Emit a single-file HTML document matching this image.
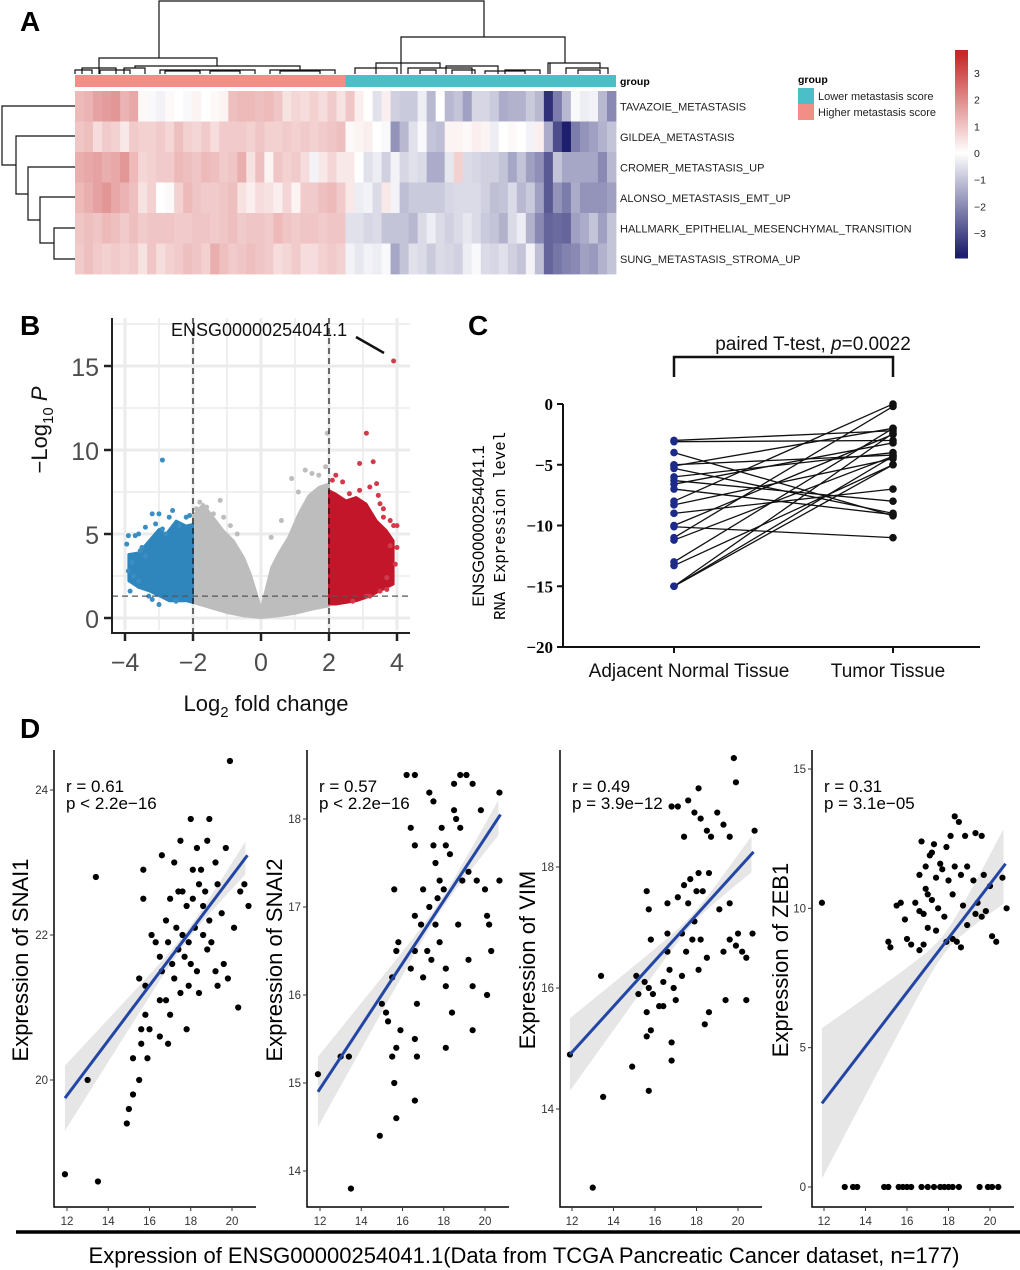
<!DOCTYPE html>
<html><head><meta charset="utf-8"><style>
html,body{margin:0;padding:0;background:#fff;}
svg{display:block;font-family:"Liberation Sans",sans-serif;}
</style></head><body>
<svg id="fig" width="1020" height="1270" viewBox="0 0 1020 1270" xmlns="http://www.w3.org/2000/svg">
<g font-weight="bold" font-size="28">
<text x="20" y="31">A</text>
<text x="20" y="335">B</text>
<text x="468" y="335">C</text>
<text x="20" y="738">D</text>
</g>
<g id="pa"></g>
<g id="pb"></g>
<g id="pc"></g>
<g id="pd"></g>
</svg>
<script>
// ===== Panel A data =====
const heatRows = ["TAVAZOIE_METASTASIS","GILDEA_METASTASIS","CROMER_METASTASIS_UP","ALONSO_METASTASIS_EMT_UP","HALLMARK_EPITHELIAL_MESENCHYMAL_TRANSITION","SUNG_METASTASIS_STROMA_UP"];
const heatGroups = ["Higher metastasis score","Lower metastasis score"];
const heatR1 = [1.2,1.3,1.6,1.7,1.8,1.3,1.5,0.1,-0.1,-0.2,0.1,0,-0.1,0.2,0,0.1,0.2,1.1,1.2,1.2,1.1,1.2,1.0,0.5,0.7,0.6,0.8,0.6,0.9,0.5, 1.0,0.3,0,-0.5,0.3,-0.8,-0.9,-0.9,-0.3,-1.2,0,-1.2,-1.0,-1.6,-0.7,-0.7,-0.9,-1.4,-1.3,-1.3,-0.9,-1.2,-3.5,-2.2,-1.2,-0.1,-0.3,-0.2,-1.2,-2.0];
const heatR2 = [1.0,1.1,0.6,0.9,0.8,0.4,0.9,0.8,0.8,0.9,0.7,1.1,0.8,0.7,0.9,0.6,0.9,0.9,0.9,0.8,1.0,0.8,0.8,0.9,0.8,0.9,0.8,0.9,1.0,1.1, 0.1,0.2,0.3,0,-0.1,-1.8,-1.2,-0.5,-0.1,-1.0,-1.1,0.2,0.2,0.1,0.3,0.2,-0.3,0,0.1,0,-0.2,0.3,-1.4,-3.0,-3.8,-2.2,-1.8,-1.6,-1.3,-1.0];
const heatR3 = [1.4,1.5,1.6,1.4,1.5,1.8,1.2,0.7,0.8,0.9,0.9,1.2,1.1,1.0,1.2,1.1,0.9,1.0,1.4,0.5,1.1,0.2,1.0,0.8,0.9,0.6,-0.2,0.4,0.7,0.4, 0.4,0,-0.5,-0.3,-0.8,-0.2,-0.7,-0.5,-0.6,-1.4,-1.4,-0.4,0.8,-0.6,-0.7,-0.8,-0.8,-1.0,-1.5,-1.0,-1.6,-1.9,-2.8,-1.0,-1.5,-1.5,-1.5,-1.5,-2.0,-1.2];
const heatR4 = [1.2,1.4,1.6,1.8,1.5,1.3,1.1,0.5,0.8,0.0,0.1,0.8,1.2,1.0,0.9,0.9,1.0,1.1,0.5,0.3,0.6,0.5,0.3,0.7,0.2,0.9,0.9,1.1,1.2,0.9, 0.4,-0.3,-0.2,-0.6,0.4,-0.2,-1.1,-0.9,-0.9,-0.9,-0.9,-0.7,-0.6,-0.6,-0.6,-0.8,-1.1,-1.0,-0.6,-1.2,-0.9,-1.6,-2.8,-1.8,-2.2,-1.4,-1.8,-1.8,-1.8,-1.6];
const heatR5 = [1.0,1.1,1.0,1.2,1.1,0.9,1.1,0.9,1.0,1.0,1.0,0.9,0.9,1.0,1.0,0.9,1.0,1.1,0.9,1.0,1.0,0.9,1.2,1.0,0.9,1.0,1.0,0.9,1.0,1.0, -0.5,-0.5,-0.7,-0.6,-1.0,-1.0,-1.0,-1.2,-0.6,-0.3,-0.6,-0.8,-0.6,-0.4,-0.6,-0.9,-1.0,-1.3,-0.6,-0.3,-1.3,-2.0,-2.6,-2.5,-2.6,-1.6,-1.4,-1.0,-1.6,-1.0];
const heatR6 = [0.9,1.1,0.9,0.8,0.9,0.8,0.9,0.5,1.0,0.6,0.8,0.9,1.1,1.0,0.8,1.4,1.1,0.9,1.0,1.1,1.0,0.9,0.6,0.7,0.9,0.6,0.6,0.8,0.9,0.8, -0.2,-0.4,-0.2,-0.3,-0.1,-1.5,-1.0,-0.5,-0.6,-0.9,-0.6,-0.7,-0.8,-0.3,-0.1,-0.6,-0.7,-0.5,-0.8,-1.0,-0.2,-1.1,-2.6,-2.3,-2.1,-2.0,-1.6,-1.7,-1.3,-1.0];
const colorbarTicks = [3,2,1,0,-1,-2,-3];

// ===== Panel B data =====
const volTicksX = [-4,-2,0,2,4];
const volTicksY = [0,5,10,15];
const grayTopFC = [-2,-1.7,-1.4,-1.1,-0.8,-0.5,-0.3,-0.15,0,0.15,0.3,0.5,0.8,1.1,1.4,1.7,2];
const grayTopP  = [6.1,6.8,6.0,5.2,4.6,3.6,2.6,1.6,0.6,1.8,3.0,3.8,4.8,6.2,7.3,7.8,8.0];
const grayBotFC = [2,1.5,1,0.5,0,-0.5,-1,-1.5,-2];
const grayBotP  = [0.7,0.5,0.25,0.1,0,0.1,0.3,0.6,0.9];
const blueTopFC = [-2,-2.2,-2.5,-2.8,-3.0,-3.3,-3.6,-3.9];
const blueTopP  = [5.6,5.5,5.8,5.0,5.3,4.6,3.9,3.8];
const blueBotFC = [-3.9,-3.6,-3.3,-3.0,-2.7,-2.4,-2.2,-2];
const blueBotP  = [2.2,1.8,1.6,1.3,1.0,1.0,1.0,0.9];
const redTopFC = [2,2.2,2.5,2.8,3.1,3.4,3.7,3.9];
const redTopP  = [7.6,7.4,7.0,7.2,6.8,5.8,5.2,4.6];
const redBotFC = [3.9,3.7,3.4,3.1,2.8,2.5,2.2,2];
const redBotP  = [2.0,1.8,1.5,1.2,1.0,0.9,0.8,0.8];
const blueDotsFC = [-2.9,-3.9,-3.5,-3.2,-3.0,-2.6,-2.4,-3.8,-3.6,-3.4,-2.2,-2.8,-3.9,-3.3,-2.5,-3.95,-3.7,-3.55,-3.85,-3.2,-3.0,-2.7,-2.1,-3.6,-3.4,-3.1,-2.9,-3.75];
const blueDotsP  = [9.4,4.9,4.2,6.2,6.2,6.4,5.5,3.3,2.2,3.7,6.0,5.0,2.8,1.3,1.0,4.4,4.9,4.0,1.6,1.1,0.8,6.0,6.1,5.0,5.4,5.6,5.3,2.5];
const redDotsFC = [3.9,3.1,2.9,3.3,3.4,3.6,3.9,3.8,2.2,2.6,3.5,3.7,4.0,3.2,2.7,3.95,3.8,3.6,3.45,3.2,2.4,2.1,3.7,4.0,3.1,2.9,3.5];
const redDotsP  = [15.3,11.0,9.2,9.3,8.0,6.5,5.5,4.3,8.5,7.4,6.8,2.4,4.2,1.3,1.0,3.2,5.8,6.0,7.3,7.8,8.1,8.2,1.7,5.5,1.3,7.6,1.6];
const grayDotsFC = [1.3,1.5,0.9,1.95,-1.2,-1.6,-1.9,1.1,-0.9,-1.4,-1.1,-0.7,0.6,0.3,1.7,1.9,-1.8];
const grayDotsP  = [8.8,8.6,8.3,11.0,7.0,6.6,6.5,7.5,5.5,6.2,6.0,5.0,5.8,4.8,8.5,9.0,6.9];

// ===== Panel C data =====
const pairCats = ["Adjacent Normal Tissue","Tumor Tissue"];
const normalVals = [-3,-3.1,-4,-5,-5.1,-5.3,-6,-6.3,-6.6,-7,-8,-8.3,-9,-10,-10.1,-11,-11.2,-13,-13.3,-15,-15,-15];
const tumorVals  = [-2.2,-3,-9.2,-4.2,-2,-9,-4,-8,-3.2,-9.1,0,-4.5,-7,-2.5,-11,-0.2,-4.3,-2,-5,-2.4,-4.3,-5];
const pairTicks = [0,-5,-10,-15,-20];

// ===== Panel D data =====
const d1X = [11.9,13.5,13.4,13,14.9,15,15.2,15.5,15.2,15.6,15.9,15.6,15.8,16,15.7,15.7,15.5,16.5,16.5,16.9,16.8,17,17.8,16.1,16.5,16.8,16.6,17.2,17.4,17.5,18,18.3,18.9,18.8,19.7,19.9,19.2,18.5,17.8,18.1,18.4,18.6,17.6,17.9,18.2,17.4,17.7,18,18.3,17.2,17.5,17.9,18.4,18.8,19.2,19.3,19.6,19.8,20.1,20.3,20.4,20.6,20.8,19.5,19,18.6,17,16.9,17.3,18.7,19.3,16.3,18.1,17.6,18.9,17.1,16.6,15.8];
const d1Y = [18.7,18.6,22.8,20,19.4,19.6,19.8,20,20.3,20.5,20.3,20.7,20.9,20.7,22.5,22.9,21.4,21.1,20.6,20.5,21.1,20.9,20.7,22,21.7,22.2,23.1,23,22.6,23.3,23.6,23.2,23.6,23.3,23.2,24.4,23,22.9,22.4,22.5,22.7,22.4,22,21.9,22.1,21.8,21.7,21.6,21.5,21.4,21.2,21.3,21.2,21.8,21.5,21.3,21.6,21.4,22.1,21,22.6,22.7,22.4,22.3,21.9,22,22.5,21.9,22.1,22.6,22.7,21.9,22.9,22.6,22.2,21.6,21.5,21.3];
const d2X = [11.9,13,13.4,13.5,14.9,15,15.2,15.3,15.5,15.6,15.7,15.7,15.9,15.5,15.7,15.8,15.6,16.6,16.6,16.7,16.7,16.4,16.6,16.2,16.6,16.4,16.6,17.3,17.5,17.6,17.8,18.1,18,18.3,18.5,18.6,18.8,18.5,18.8,19.1,19.4,19.8,20.7,17,17.3,17.6,17.8,17.2,16.9,17,17.4,18.1,18.1,18.4,18.1,18.7,19.2,19.4,19.4,20.1,20.3,20.2,19.6,20,20.1,20.7,19.2,18.9,17.9,17.5,16.6,17.7];
const d2Y = [15.1,15.3,15.3,13.8,14.4,15.9,15.8,15.7,15.3,15,14.6,15.4,15.6,16.2,16.5,16.6,17.2,14.8,15.5,15.3,15.9,16.3,16.5,18.5,18.5,17.9,17.7,18.3,18.2,17.5,17.3,17.7,17.2,17.6,18.1,18,17.9,18.4,18.5,18.5,18.4,18.1,18.3,17.2,17,16.8,16.6,16.5,16.8,16.2,16.4,16.3,16.1,15.8,15.4,16.8,16.4,16.1,15.6,16,16.5,16.8,17.3,17.2,16.9,17.3,17.4,17.3,17.9,17.7,16.9,17.1];
const d3X = [11.9,13,13.5,13.4,14.9,15.1,15.2,15.5,15.6,15.7,15.8,15.6,15.7,15.9,16.4,16.2,15.7,15.6,15.8,16.6,16.8,16.8,16.6,16.6,16.4,16.7,16.9,17.0,17.3,17.5,17.8,17.6,17.1,17.4,17.7,18,18.1,18.3,18.6,18.2,18.5,18.1,18.4,18.6,18.5,18.7,19,19.3,19.6,17.4,17.9,18.2,16.8,17.1,17.6,18.1,19.8,19.9,20.8,19.6,19.9,20.0,20.2,20.4,20.4,19.6,19.3,19.4,20.7,17.3,17.9,19.1];
const d3Y = [14.9,12.7,14.2,16.2,14.7,16.2,15.9,16.1,15.2,14.3,15.3,15.6,16,15.9,15.7,15.7,17.3,17.6,16.8,17.4,14.8,15.1,16.6,16.9,16.1,16.3,16,15.8,16.2,16.6,16.8,17.4,17.5,17.7,17.8,17.6,17.9,17.6,17.9,16.8,16.5,16.3,15.4,15.6,18.6,18.5,18.9,18.7,18.5,18.5,18.9,18.8,19,19,19.1,19.3,19.8,19.4,18.6,17.4,16.7,16.9,16.6,16.5,15.8,16.8,16.6,15.8,16.9,16.9,17.1,17.3];
const d4X = [13,13.4,13.6,14.9,15.1,15.6,15.8,16,16.2,16.7,17,17.3,17.6,17.8,18,18.2,18.5,19.5,19.9,20.1,20.4, 11.9,15.1,15.2,15.5,15.7,15.9,16,16.2,16.6,16.8,16.4,16.6,16.8,17.0,17.0,16.6,16.9,16.7,17.3,17.1,17.4,17.7,17.9,18.1,18.3,18.5,18.8,19.3,19.6,18,18.3,18.6,18.9,19.2,17.2,17.5,17.8,17.4,17.9,18.2,18.4,18.6,18.9,19.3,19.6,19.8,20.1,20.3,20.8,19.7,20.0,20.6,19.4,18.2,17.6,17.2,16.9,18.7];
const d4Y = [0,0,0,0,0,0,0,0,0,0,0,0,0,0,0,0,0,0,0,0,0, 10.2,8.8,8.6,10.1,10.2,9.6,8.9,8.7,8.5,8.7,10.2,9.9,9.8,10.5,9.3,11.2,11.5,12.4,12.3,11.9,11.1,11.4,12.2,12.6,13.3,13.1,12.6,12.7,12.6,11,11.5,11.2,11.5,11,10.3,10.0,9.7,9.2,8.8,8.9,8.8,8.6,9.4,9.8,9.7,9.9,9.0,8.8,10,11.2,10.8,11.1,10.2,10.5,11.6,12.0,10.7,10.1];
const dGenes = ["SNAI1","SNAI2","VIM","ZEB1"];
const dR = ["r = 0.61","r = 0.57","r = 0.49","r = 0.31"];
const dP = ["p < 2.2e\u221216","p < 2.2e\u221216","p = 3.9e\u221212","p = 3.1e\u221205"];
const dFitStart = [19.75,14.9,14.9,3.0];
const dFitEnd = [23.1,18.05,18.25,11.6];
const dBandEnd = [0.45,0.4,0.6,2.7];
const dBandMid = [0.07,0.06,0.08,0.35];
const d1Ticks = [20,22,24];
const d2Ticks = [14,15,16,17,18];
const d3Ticks = [14,16,18];
const d4Ticks = [0,5,10,15];
const dXTicks = [12,14,16,18,20];

const NS="http://www.w3.org/2000/svg";
function mk(parent, tag, attrs, text){
  const e=document.createElementNS(NS,tag);
  for(const k in attrs) e.setAttribute(k,attrs[k]);
  if(text!==undefined) e.textContent=text;
  parent.appendChild(e); return e;
}

// ===== Panel A =====
(function(){
  const g=document.getElementById('pa');
  const x0=75,x1=616,y0=91,rowH=30.5;
  const rows=[heatR1,heatR2,heatR3,heatR4,heatR5,heatR6];
  const n=heatR1.length, cw=(x1-x0)/n;
  function col(v){
    if(v>=0){const t=Math.min(v/3.7,1);return `rgb(${Math.round(255-57*t)},${Math.round(255-215*t)},${Math.round(255-215*t)})`;}
    const t=Math.min(-v/3.8,1);return `rgb(${Math.round(255-225*t)},${Math.round(255-225*t)},${Math.round(255-145*t)})`;
  }
  rows.forEach((r,ri)=>{
    r.forEach((v,ci)=>{
      const c=mk(g,'rect',{x:x0+ci*cw,y:y0+ri*rowH,width:cw+0.4,height:rowH+0.4,fill:col(v)});
      
      
    });
    const t=mk(g,'text',{x:620,y:y0+ri*rowH+rowH/2+4,'font-size':11,fill:'#222'},heatRows[ri]);
    
    
  });
  const half=n/2;
  const a1=mk(g,'rect',{x:x0,y:75,width:half*cw,height:12,fill:'#f28e86'});
  
  
  const a2=mk(g,'rect',{x:x0+half*cw,y:75,width:half*cw,height:12,fill:'#4bbfc8'});
  
  
  const gl=mk(g,'text',{x:620,y:85,'font-size':10.5,'font-weight':'bold'},'group');
  
  
  const lt=mk(g,'text',{x:798,y:83,'font-size':10.5,'font-weight':'bold'},'group');
  
  
  [['#4bbfc8',heatGroups[1]],['#f28e86',heatGroups[0]]].forEach((d,i)=>{
    const b=mk(g,'rect',{x:798,y:88+i*16,width:16,height:16,fill:d[0]});
    
    
    const t=mk(g,'text',{x:818,y:100+i*16,'font-size':11,fill:'#222'},d[1]);
    
    
  });
  const cb0=50,cb1=257,zeroY=153,ppu=26.7;
  for(let y=cb0;y<cb1;y+=2){
    const v=(zeroY-y-1)/ppu;
    const s=mk(g,'rect',{x:955,y:y,width:13,height:2.5,fill:col(v)});
    
    
  }
  colorbarTicks.forEach(v=>{
    const t=mk(g,'text',{x:974,y:zeroY-v*ppu+4,'font-size':10.5,fill:'#222'},v<0?'\u2212'+(-v):String(v));
    
    
  });
  const dg=mk(g,'path',{fill:'none',stroke:'#111','stroke-width':1.2,d:
   'M159,58 V1 H484 V37 M99,74 V58 H217 V66 M401,74 V37 H565 V63 '+
   'M82,74 V68 H116 V74 M124,74 V68 H145 V74 M135,68 V66 H300 V70 M160,74 V70 H255 V74 M270,74 V70 H335 V74 '+
   'M376,74 V63 H440 V68 M355,74 V68 H397 V74 M408,74 V68 H472 V74 M446,74 V66 H498 V74 M420,74 V70 H436 V74 M452,74 V70 H475 V74 '+
   'M548,74 V63 H600 V68 M550,63 V74 M566,74 V68 H608 V74 M578,74 V70 H600 V74 '+
   'M75,74 V70 H92 V74 M100,74 V70 H130 V74 M165,74 V71 H200 V74 M210,74 V71 H240 V74 M280,74 V71 H320 V74 M505,74 V70 H540 V74 M485,74 V71 H525 V74'});
  
  
  const dl=mk(g,'path',{fill:'none',stroke:'#111','stroke-width':1.2,d:
   'M75,106 H2 V165 H16 M75,136 H16 V194 H28 M75,167 H28 V220 H40 M75,197 H40 V243 H54 M75,228 H54 V259 H75'});
  
  
})();

// ===== Panel B =====
(function(){
  const g=document.getElementById('pb');
  const X=v=>261+v*34, Y=v=>618-v*16.8;
  const L=112,R=410,T=318,B=633;
  for(let v=-4;v<=4;v+=1){const l=mk(g,'line',{x1:X(v),x2:X(v),y1:T,y2:B-3,stroke:'#ebebeb','stroke-width':v%2===0?3:1.6});
    
    }
  for(let v=0;v<=17.5;v+=2.5){const l=mk(g,'line',{x1:L,x2:R,y1:Y(v),y2:Y(v),stroke:'#ebebeb','stroke-width':v%5===0?3:1.6});
    
    }
  function poly(fx,fy,bx,by,fill,name){
    const pts=[];fx.forEach((v,i)=>pts.push(X(v)+','+Y(fy[i])));bx.forEach((v,i)=>pts.push(X(v)+','+Y(by[i])));
    const p=mk(g,'polygon',{points:pts.join(' '),fill:fill,stroke:fill,'stroke-width':2,'stroke-linejoin':'round'});
    
    
  }
  poly(grayTopFC,grayTopP,grayBotFC,grayBotP,'#bdbdbd','gray-cloud');
  poly(blueTopFC,blueTopP,blueBotFC,blueBotP,'#2f86bd','blue-cloud');
  poly(redTopFC,redTopP,redBotFC,redBotP,'#c4162a','red-cloud');
  function dots(xs,ys,c,name){xs.forEach((v,i)=>{const d=mk(g,'circle',{cx:X(v),cy:Y(ys[i]),r:2.5,fill:c});
    
    });}
  dots(grayDotsFC,grayDotsP,'#bdbdbd','gray-point');
  dots(blueDotsFC,blueDotsP,'#3b8ec2','blue-point');
  dots(redDotsFC,redDotsP,'#d23a4c','red-point');
  [-2,2].forEach(v=>{const l=mk(g,'line',{x1:X(v),x2:X(v),y1:T,y2:B,stroke:'#111','stroke-width':1.2,'stroke-dasharray':'6,4'});
    
    });
  const h=mk(g,'line',{x1:L,x2:R,y1:Y(1.3),y2:Y(1.3),stroke:'#555','stroke-width':1.2,'stroke-dasharray':'6,4'});
  
  
  const ax=mk(g,'path',{d:`M${L},${T} V${B} H${R}`,fill:'none',stroke:'#222','stroke-width':2});
  
  
  volTicksX.forEach(v=>{
    const tk=mk(g,'line',{x1:X(v),x2:X(v),y1:B,y2:B+8,stroke:'#222','stroke-width':2.5});
    
    
    const t=mk(g,'text',{x:X(v),y:B+38,'font-size':25,fill:'#4d4d4d','text-anchor':'middle'},v<0?'\u2212'+(-v):String(v));
    
    
  });
  volTicksY.forEach(v=>{
    const tk=mk(g,'line',{x1:L-8,x2:L,y1:Y(v),y2:Y(v),stroke:'#222','stroke-width':2.5});
    
    
    const t=mk(g,'text',{x:L-13,y:Y(v)+10,'font-size':25,fill:'#4d4d4d','text-anchor':'end'},String(v));
    
    
  });
  const lab=mk(g,'text',{x:171,y:336,'font-size':18,fill:'#111'},'ENSG00000254041.1');
  
  
  const ar=mk(g,'line',{x1:356,y1:337,x2:384,y2:353,stroke:'#111','stroke-width':2.5});
  
  
  const xt=mk(g,'text',{x:266,y:711,'font-size':22,'text-anchor':'middle',fill:'#111'});
  xt.innerHTML='Log<tspan font-size="15" dy="6">2</tspan><tspan dy="-6"> fold change</tspan>';
  
  
  const yt=mk(g,'text',{transform:'translate(47,430) rotate(-90)','font-size':22,'text-anchor':'middle',fill:'#111'});
  yt.innerHTML='\u2212Log<tspan font-size="15" dy="6">10</tspan><tspan dy="-6" font-style="italic"> P</tspan>';
  
  
})();

// ===== Panel C =====
(function(){
  const g=document.getElementById('pc');
  const Y=v=>404-v*(243/20);
  const cx=[674,893];
  const L=563,B=647,R=980;
  const ax=mk(g,'path',{d:`M${L},${Y(0)} V${B} H${R}`,fill:'none',stroke:'#111','stroke-width':2});
  
  
  pairTicks.forEach(v=>{
    const tk=mk(g,'line',{x1:L-6,x2:L,y1:Y(v),y2:Y(v),stroke:'#111','stroke-width':2});
    
    
    const t=mk(g,'text',{x:L-10,y:Y(v)+6,'font-size':17,'font-weight':'bold','font-family':'"Liberation Serif",serif','text-anchor':'end'},v<0?'\u2212'+(-v):String(v));
    
    
  });
  cx.forEach((x,i)=>{
    const tk=mk(g,'line',{x1:x,x2:x,y1:B,y2:B+6,stroke:'#111','stroke-width':2});
    
    
    const t=mk(g,'text',{x:x+(i===0?15:-5),y:677,'font-size':19,'text-anchor':'middle',fill:'#111'},pairCats[i]);
    
    
  });
  normalVals.forEach((v,i)=>{
    const l=mk(g,'line',{x1:cx[0],y1:Y(v),x2:cx[1],y2:Y(tumorVals[i]),stroke:'#111','stroke-width':1.3});
    
    
  });
  normalVals.forEach(v=>{const c=mk(g,'circle',{cx:cx[0],cy:Y(v),r:3.8,fill:'#1c2a8c'});
    
    });
  tumorVals.forEach(v=>{const c=mk(g,'circle',{cx:cx[1],cy:Y(v),r:3.8,fill:'#111'});
    
    });
  const br=mk(g,'path',{d:`M${cx[0]},377 V357 H${cx[1]} V377`,fill:'none',stroke:'#111','stroke-width':2.5});
  
  
  const st=mk(g,'text',{x:813,y:350,'font-size':19,'text-anchor':'middle',fill:'#111'});
  st.innerHTML='paired T-test, <tspan font-style="italic">p</tspan>=0.0022';
  
  
  const yt=mk(g,'text',{transform:'translate(484,526) rotate(-90)','font-size':16.5,'text-anchor':'middle','font-family':'"Liberation Sans",sans-serif'},'ENSG00000254041.1');
  
  
  const yt2=mk(g,'text',{transform:'translate(505,526) rotate(-90)','font-size':17,'text-anchor':'middle','font-family':'"Liberation Mono",monospace','textLength':188,'lengthAdjust':'spacingAndGlyphs'},'RNA Expression level');
  
  
})();

// ===== Panel D =====
(function(){
  const g=document.getElementById('pd');
  const panels=[
    {ax:54,x12:67,x20:232,yA:24,yAp:790,yB:20,yBp:1080,xs:d1X,ys:d1Y,ticks:d1Ticks,ylab:20},
    {ax:307,x12:320,x20:485,yA:18,yAp:819,yB:14,yBp:1171,xs:d2X,ys:d2Y,ticks:d2Ticks,ylab:274},
    {ax:560,x12:572,x20:738,yA:18,yAp:867,yB:14,yBp:1109,xs:d3X,ys:d3Y,ticks:d3Ticks,ylab:527},
    {ax:812,x12:824,x20:990,yA:15,yAp:769,yB:0,yBp:1187,xs:d4X,ys:d4Y,ticks:d4Ticks,ylab:780}
  ];
  const T=750,B=1207;
  panels.forEach((p,k)=>{
    const X=v=>p.x12+(v-12)*(p.x20-p.x12)/8;
    const Y=v=>p.yBp+(v-p.yB)*(p.yAp-p.yBp)/(p.yA-p.yB);
    const pg=mk(g,'g',{});
    
    
    const xa=11.9,xb=20.75,xm=17.8;
    const fy=x=>dFitStart[k]+(x-xa)*(dFitEnd[k]-dFitStart[k])/(xb-xa);
    const hw=x=>Math.sqrt(dBandMid[k]**2+(dBandEnd[k]**2-dBandMid[k]**2)*((x-xm)/(xa-xm))**2);
    const up=[],dn=[];
    for(let x=xa;x<=xb+0.001;x+=0.25){up.push(X(x)+','+Y(fy(x)+hw(x)));dn.unshift(X(x)+','+Y(fy(x)-hw(x)));}
    const band=mk(pg,'polygon',{points:up.concat(dn).join(' '),fill:'#e6e6e6'});
    
    
    p.xs.forEach((v,i)=>{const c=mk(pg,'circle',{cx:X(v),cy:Y(p.ys[i]),r:3.1,fill:'#000'});
      
      });
    const ln=mk(pg,'line',{x1:X(xa),y1:Y(fy(xa)),x2:X(xb),y2:Y(fy(xb)),stroke:'#2346a5','stroke-width':3});
    
    
    const axp=mk(pg,'path',{d:`M${p.ax},${T} V${B} H${p.ax+202}`,fill:'none',stroke:'#000','stroke-width':1.5});
    
    
    p.ticks.forEach(v=>{
      const tk=mk(pg,'line',{x1:p.ax-4,x2:p.ax,y1:Y(v),y2:Y(v),stroke:'#333'});
      
      
      const t=mk(pg,'text',{x:p.ax-6,y:Y(v)+4,'font-size':11.5,fill:'#333','text-anchor':'end'},String(v));
      
      
    });
    dXTicks.forEach(v=>{
      const tk=mk(pg,'line',{x1:X(v),x2:X(v),y1:B,y2:B+4,stroke:'#333'});
      
      
      const t=mk(pg,'text',{x:X(v),y:B+18,'font-size':11.5,fill:'#333','text-anchor':'middle'},String(v));
      
      
    });
    const r=mk(pg,'text',{x:p.ax+12,y:792,'font-size':17},dR[k]);
    
    
    const pv=mk(pg,'text',{x:p.ax+12,y:809,'font-size':17},dP[k]);
    
    
    const yl=mk(pg,'text',{transform:`translate(${p.ylab+8},960) rotate(-90)`,'font-size':22,'text-anchor':'middle'},'Expression of '+dGenes[k]);
    
    
  });
  const bl=mk(g,'line',{x1:16,x2:1020,y1:1232,y2:1232,stroke:'#000','stroke-width':3.5});
  
  
  const xt=mk(g,'text',{x:524,y:1263,'font-size':22,'text-anchor':'middle'},'Expression of ENSG00000254041.1(Data from TCGA Pancreatic Cancer dataset, n=177)');
  
  
})();
</script>
</body></html>
